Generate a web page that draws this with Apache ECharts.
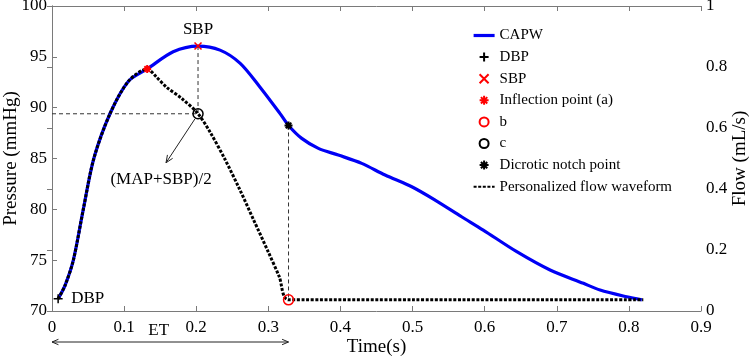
<!DOCTYPE html>
<html>
<head>
<meta charset="utf-8">
<script src="https://cdn.jsdelivr.net/npm/echarts@6/dist/echarts.min.js"></script>
<style>
  html, body { margin: 0; padding: 0; background: #fff; }
  #chart { width: 754px; height: 360px; }
</style>
</head>
<body>
<div id="chart"></div>
<script>
// carotid pressure waveform (mmHg) against time (s)
const capwTime = [0.0085, 0.018, 0.0296, 0.0434, 0.058, 0.0804, 0.106, 0.132,
  0.168, 0.2025, 0.233, 0.261, 0.288, 0.316, 0.328, 0.3463, 0.3694, 0.397, 0.4295, 0.4619,
  0.4989, 0.5312, 0.568, 0.598, 0.6445, 0.6907, 0.737, 0.76, 0.797, 0.818]
const capwPressure = [71.2, 72.5, 75.0, 80.0, 85.0, 89.4, 92.6, 93.8,
  95.5, 96.06, 95.66, 94.36, 92.06, 89.44, 88.25, 86.98, 86.0, 85.34, 84.52, 83.37,
  82.22, 80.91, 79.27, 77.96, 75.83, 74.03, 72.72, 72.06, 71.4, 71.1]

// personalized flow waveform, drawn on the pressure scale
const flowTime = [0.0085, 0.018, 0.0296, 0.0434, 0.058, 0.0804, 0.106, 0.132,
  0.145, 0.159, 0.18, 0.2025, 0.22, 0.24, 0.26, 0.28, 0.30, 0.315, 0.328, 0.5, 0.82]
const flowPressure = [71.2, 72.5, 75.0, 80.0, 85.0, 89.4, 92.6, 93.8,
  93.0, 92.0, 90.9, 89.4, 87.5, 84.9, 82.0, 78.9, 75.8, 73.4, 71.1, 71.1, 71.1]

// feature points [time, pressure]
const dbpPoint = [0.0085, 71.2]
const sbpPoint = [0.2025, 96.06]
const inflectionPoint = [0.132, 93.8]
const bPoint = [0.328, 71.1]
const cPoint = [0.2025, 89.4]
const notchPoint = [0.328, 88.25]

const timeTicks = [0, 0.1, 0.2, 0.3, 0.4, 0.5, 0.6, 0.7, 0.8, 0.9]
const pressureRange = [70, 100]
const flowRange = [0, 1]

const FONT = 'Liberation Serif'
const AXIS_GRAY = '#7a7a7a'
const TEXT = '#000'
const BLUE = '#0000f5'

const chart = echarts.init(document.getElementById('chart'))

const plusPath = 'path://M5,0L5,10M0,5L10,5'
const crossPath = 'path://M0,0L10,10M10,0L0,10'
const starPath = 'path://M5,0L5,10M0,5L10,5M1.5,1.5L8.5,8.5M8.5,1.5L1.5,8.5'

const guide = (name, pts) => ({
  name, type: 'line', data: pts, symbol: 'none', silent: true, z: 1,
  lineStyle: { color: '#333', width: 1, type: [4, 3] }
})
const markLabel = (text, position, distance) => ({
  show: true, position, distance, formatter: text, fontFamily: FONT, fontSize: 17, color: TEXT, opacity: 1
})

chart.setOption({
  animation: false,
  textStyle: { fontFamily: FONT },
  grid: { left: 52, right: 53, top: 6, bottom: 49, outerBoundsMode: 'none', containLabel: false },
  legend: {
    orient: 'vertical', left: 467, top: 22, itemWidth: 21, itemHeight: 9, itemGap: 4.6,
    textStyle: { fontFamily: FONT, fontSize: 15, color: TEXT, lineHeight: 17 },
    data: [
      { name: 'CAPW', itemStyle: { opacity: 0 }, lineStyle: { width: 3.2 } },
      'DBP', 'SBP', 'Inflection point (a)', 'b', 'c', 'Dicrotic notch point',
      { name: 'Personalized flow waveform', itemStyle: { opacity: 0 } }
    ]
  },
  xAxis: [{
    type: 'value', min: timeTicks[0], max: timeTicks[timeTicks.length - 1], interval: 0.1,
    name: 'Time(s)', nameLocation: 'middle', nameGap: 27, nameMoveOverlap: false,
    nameTextStyle: { fontSize: 19, color: TEXT },
    axisLine: { lineStyle: { color: AXIS_GRAY } },
    axisTick: { inside: true, length: 5, lineStyle: { color: AXIS_GRAY } },
    axisLabel: { fontSize: 17, color: TEXT, margin: 8, formatter: v => (v === 0 ? '0' : v.toFixed(1)) },
    splitLine: { show: false }
  }, {
    type: 'value', position: 'top', min: timeTicks[0], max: timeTicks[timeTicks.length - 1], interval: 0.1,
    axisLine: { lineStyle: { color: AXIS_GRAY } },
    axisTick: { inside: true, length: 5, lineStyle: { color: AXIS_GRAY } },
    axisLabel: { show: false }, splitLine: { show: false }
  }],
  yAxis: [{
    type: 'value', min: pressureRange[0], max: pressureRange[1], interval: 5,
    name: 'Pressure (mmHg)', nameLocation: 'middle', nameGap: 31, nameRotate: 90, nameMoveOverlap: false,
    nameTextStyle: { fontSize: 19, color: TEXT },
    axisLine: { show: true, lineStyle: { color: AXIS_GRAY } },
    axisTick: { show: true, inside: true, length: 5, lineStyle: { color: AXIS_GRAY } },
    axisLabel: { fontSize: 17, color: TEXT, margin: 5 },
    splitLine: { show: false }
  }, {
    type: 'value', position: 'right', min: flowRange[0], max: flowRange[1], interval: 0.2,
    name: 'Flow (mL/s)', nameLocation: 'middle', nameGap: 30, nameRotate: 90, nameMoveOverlap: false,
    nameTextStyle: { fontSize: 19, color: TEXT },
    axisLine: { show: true, lineStyle: { color: AXIS_GRAY } },
    axisTick: { show: true, inside: true, length: 5, lineStyle: { color: AXIS_GRAY } },
    axisLabel: { fontSize: 17, color: TEXT, margin: 5, formatter: v => String(+v.toFixed(1)) },
    splitLine: { show: false }
  }],
  series: [
    guide('guideH', [[0, cPoint[1]], cPoint]),
    guide('guideSbp', [sbpPoint, cPoint]),
    guide('guideNotch', [notchPoint, bPoint]),
    {
      name: 'CAPW', type: 'line', smooth: 0.3, symbol: 'none', z: 2,
      data: capwTime.map((t, i) => [t, capwPressure[i]]),
      lineStyle: { color: BLUE, width: 3.2 }, itemStyle: { color: BLUE }
    },
    {
      name: 'Personalized flow waveform', type: 'line', smooth: 0.3, symbol: 'none', z: 3,
      data: flowTime.map((t, i) => [t, flowPressure[i]]),
      lineStyle: { color: '#000', width: 3, type: [3, 1.6] }, itemStyle: { color: '#000' }
    },
    {
      name: 'DBP', type: 'scatter', symbol: plusPath, symbolSize: 9, z: 5, data: [dbpPoint],
      itemStyle: { color: 'none', borderColor: '#000', borderWidth: 1.5, opacity: 1 },
      label: markLabel('DBP', 'right', 6)
    },
    {
      name: 'SBP', type: 'scatter', symbol: crossPath, symbolSize: 7, z: 5, data: [sbpPoint],
      itemStyle: { color: 'none', borderColor: '#f00', borderWidth: 1.5, opacity: 1 },
      label: markLabel('SBP', 'top', 2)
    },
    {
      name: 'Inflection point (a)', type: 'scatter', symbol: starPath, symbolSize: 8, z: 5, data: [inflectionPoint],
      itemStyle: { color: 'none', borderColor: '#f00', borderWidth: 2, opacity: 1 }
    },
    {
      name: 'b', type: 'scatter', symbol: 'circle', symbolSize: 10, z: 5, data: [bPoint],
      itemStyle: { color: 'rgba(0,0,0,0)', borderColor: '#f00', borderWidth: 1.5, opacity: 1 }
    },
    {
      name: 'c', type: 'scatter', symbol: 'circle', symbolSize: 10, z: 5, data: [cPoint],
      itemStyle: { color: 'rgba(0,0,0,0)', borderColor: '#000', borderWidth: 1.5, opacity: 1 }
    },
    {
      name: 'Dicrotic notch point', type: 'scatter', symbol: starPath, symbolSize: 8, z: 5, data: [notchPoint],
      itemStyle: { color: 'none', borderColor: '#000', borderWidth: 2, opacity: 1 }
    }
  ]
})

// annotations anchored to data points
const px = p => chart.convertToPixel({ xAxisIndex: 0, yAxisIndex: 0 }, p)
const cPx = px(cPoint)
const etStart = px([0, pressureRange[0]])
const etEnd = px([notchPoint[0], pressureRange[0]])
const etY = etStart[1] + 31
const tip = [cPx[0] - 32, cPx[1] + 49]
const ang = Math.atan2(tip[1] - cPx[1], tip[0] - cPx[0])
const head = (x, y, a, len) => [
  [x - len * Math.cos(a - 0.4), y - len * Math.sin(a - 0.4)], [x, y],
  [x - len * Math.cos(a + 0.4), y - len * Math.sin(a + 0.4)]
]
const stroke = { stroke: '#222', lineWidth: 1, fill: null }

chart.setOption({
  graphic: [
    { type: 'line', shape: { x1: cPx[0] - 3, y1: cPx[1] + 5, x2: tip[0], y2: tip[1] }, style: stroke },
    { type: 'polyline', shape: { points: head(tip[0], tip[1], ang, 8) }, style: stroke },
    { type: 'text', x: tip[0] - 5, y: tip[1] + 17, style: { text: '(MAP+SBP)/2', font: '17px ' + FONT, fill: TEXT, align: 'center', verticalAlign: 'middle' } },
    { type: 'line', shape: { x1: etStart[0], y1: etY, x2: etEnd[0], y2: etY }, style: stroke },
    { type: 'polyline', shape: { points: head(etEnd[0], etY, 0, 7) }, style: stroke },
    { type: 'polyline', shape: { points: head(etStart[0], etY, Math.PI, 7) }, style: stroke },
    { type: 'text', x: px([0.148, 70])[0], y: etY - 11, style: { text: 'ET', font: '17px ' + FONT, fill: TEXT, align: 'center', verticalAlign: 'middle' } }
  ]
})
</script>
</body>
</html>
